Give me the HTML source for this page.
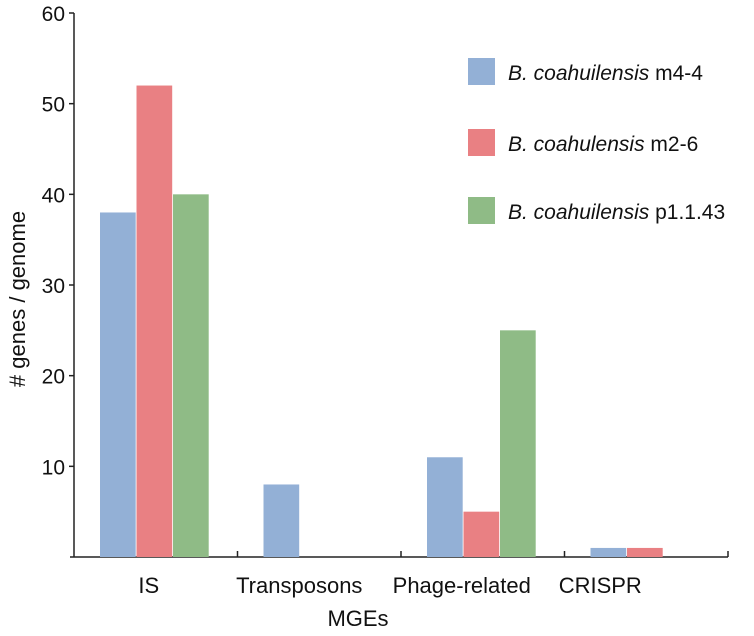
<!DOCTYPE html>
<html><head><meta charset="utf-8"><style>
body{margin:0;background:#fff;}
svg text{font-family:"Liberation Sans",sans-serif;fill:#111;}
</style></head><body>
<svg id="chart" width="754" height="631">
<g id="axes"></g><g id="bars"></g><g id="legend"></g>
</svg>
<script>
const categories = ["IS","Transposons","Phage-related","CRISPR"];
const seriesNames = ["m4-4","m2-6","p1.1.43"];
const seriesM44 = [38, 8, 11, 1];
const seriesM26 = [52, 0, 5, 1];
const seriesP1143 = [40, 0, 25, 0];
const yTicks = [10,20,30,40,50,60];

const NS="http://www.w3.org/2000/svg";
const colors=["#93b0d6","#e98083","#8fbb86"];
const x0=74, y0=557, yTop=13, yMax=60, groupW=163.5, barW=36.5, groupPad=26;
const labelShift=[-6,-19,-20,-45];
function yScale(v){return y0-(v/yMax)*(y0-yTop);}
function xBar(ci,si){return x0+ci*groupW+groupPad+si*barW;}
function mk(tag,attrs,parent){const e=document.createElementNS(NS,tag);for(const k in attrs)e.setAttribute(k,attrs[k]);parent.appendChild(e);return e;}
const axes=document.getElementById('axes'), bars=document.getElementById('bars'), legend=document.getElementById('legend');

let yl=mk('line',{x1:x0,y1:yTop,x2:x0,y2:y0,stroke:'#222','stroke-width':1.5},axes);


let xl=mk('line',{x1:x0-4,y1:y0,x2:x0+4*groupW,y2:y0,stroke:'#222','stroke-width':1.5},axes);


yTicks.forEach(t=>{
  const y=yScale(t);
  const tk=mk('line',{x1:x0-5,y1:y,x2:x0,y2:y,stroke:'#222','stroke-width':1.5},axes);
  
  
  const tx=mk('text',{x:x0-9,y:y+8,'text-anchor':'end','font-size':21},axes);
  tx.textContent=t;
  
  
});
for(let i=1;i<=4;i++){
  const x=x0+i*groupW;
  const tk=mk('line',{x1:x,y1:y0-6,x2:x,y2:y0,stroke:'#222','stroke-width':1.5},axes);
  
  
}
categories.forEach((c,i)=>{
  const t=mk('text',{x:x0+i*groupW+groupPad+1.5*barW+labelShift[i],y:593,'text-anchor':'middle','font-size':22},axes);
  t.textContent=c;
  
  
});
let xt=mk('text',{x:358,y:626,'text-anchor':'middle','font-size':22},axes);
xt.textContent="MGEs";


let yt=mk('text',{x:0,y:0,'text-anchor':'middle','font-size':22,transform:'translate(25,299) rotate(-90)'},axes);
yt.textContent="# genes / genome";



[seriesM44,seriesM26,seriesP1143].forEach((s,si)=>{
  s.forEach((v,ci)=>{
    if(v<=0)return;
    const y=yScale(v);
    const r=mk('rect',{x:xBar(ci,si),y:y,width:barW-0.8,height:y0-y,fill:colors[si]},bars);
    
    
  });
});

const legendLabels=[["B. coahuilensis"," m4-4"],["B. coahulensis"," m2-6"],["B. coahuilensis"," p1.1.43"]];
const legendY=[58,129,197];
legendLabels.forEach((l,i)=>{
  const r=mk('rect',{x:468,y:legendY[i],width:27,height:27,fill:colors[i]},legend);
  
  
  const t=mk('text',{x:508,y:legendY[i]+22,'font-size':21},legend);
  
  
  const a=mk('tspan',{'font-style':'italic'},t);a.textContent=l[0];
  const b=mk('tspan',{},t);b.textContent=l[1];
});
</script>
</body></html>
